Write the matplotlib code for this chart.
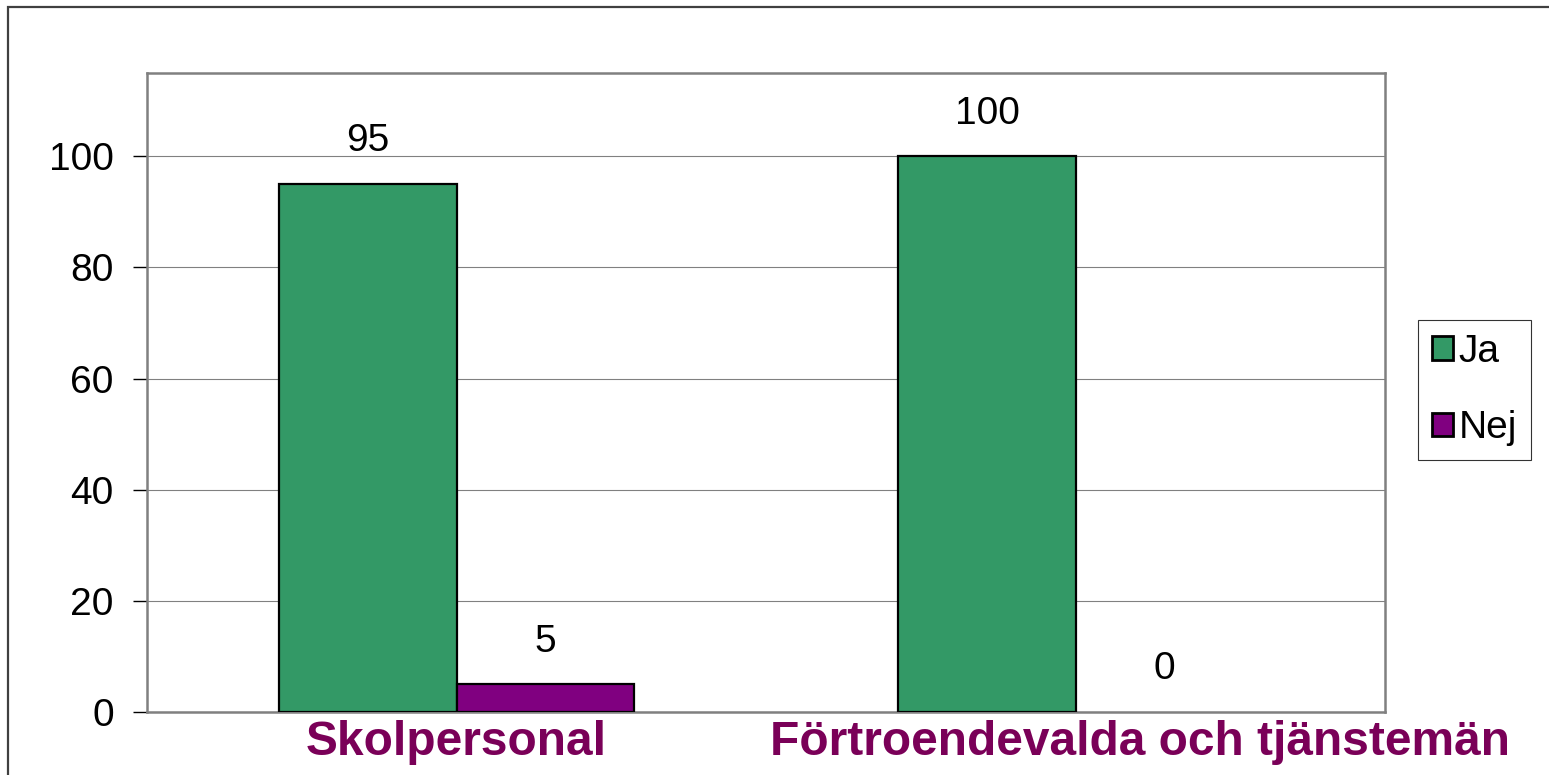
import matplotlib
matplotlib.use('Agg')
import matplotlib.pyplot as plt
import matplotlib.transforms as mtransforms
from matplotlib.patches import Rectangle
import numpy as np

# data
categories = ['Skolpersonal', 'Förtroendevalda och tjänstemän']
series_names = ['Ja', 'Nej']
ja_values = [95, 100]
nej_values = [5, 0]
yticks = [0, 20, 40, 60, 80, 100]

plt.rcParams['font.family'] = ['Liberation Sans', 'DejaVu Sans']

fig = plt.figure(figsize=(15.49, 7.75), dpi=100)
ax = fig.add_axes([147/1549, 1-712/775, (1385-147)/1549, (712-73)/775])

# outer chart border (cut off at right/bottom in the original)
fig.patches.append(Rectangle((8/1549, -0.1), 1.2, 1.1 - 7/775,
                             transform=fig.transFigure, fill=False,
                             edgecolor='#404040', linewidth=1.6, zorder=0))

x = np.arange(len(categories))
w = 0.286
b1 = ax.bar(x - w/2, ja_values, w, color='#339966', edgecolor='black',
            linewidth=1.6, label=series_names[0], zorder=3)
b2 = ax.bar(x + w/2, nej_values, w, color='#800080', edgecolor='black',
            linewidth=1.6, label=series_names[1], zorder=3)

for bars in (b1, b2):
    for r in bars:
        if r.get_height() == 0:
            r.set_linewidth(0)  # no outline drawn on a zero bar
        ax.annotate(f"{r.get_height():g}", (r.get_x() + r.get_width()/2, r.get_height()),
                    xytext=(0, 23.5), textcoords='offset points', ha='center', va='baseline',
                    fontsize=28)

ax.set_xlim(-0.5, 1.5)
ax.set_ylim(0, 115)
ax.set_yticks(yticks)
ax.yaxis.grid(True, color='#808080', linewidth=0.8, zorder=0)
ax.set_axisbelow(True)
ax.tick_params(axis='y', labelsize=28, length=10, width=1, pad=14, color='black')
ax.set_xticks(x)
ax.set_xticklabels(categories, fontsize=34.5, fontweight='bold', color='#7a0058')
ax.tick_params(axis='x', length=0, pad=6)
# second label sits a bit to the right of its category in the original
lbl = ax.get_xticklabels()[1]
lbl.set_transform(lbl.get_transform() + mtransforms.ScaledTranslation(65/100, 0, fig.dpi_scale_trans))
for s in ax.spines.values():
    s.set_color('#808080')
    s.set_linewidth(1.8)

leg = fig.legend(loc='center left', bbox_to_anchor=(1418/1549, 1-390/775),
                 fontsize=28, frameon=True, fancybox=False, edgecolor='black',
                 handlelength=0.55, handleheight=0.55, handletextpad=0.15,
                 borderpad=0.35, labelspacing=1.05, borderaxespad=0)
leg.get_frame().set_linewidth(0.8)
for h in leg.legend_handles:
    h.set_linewidth(2)

fig.savefig('out.png', dpi=100)
